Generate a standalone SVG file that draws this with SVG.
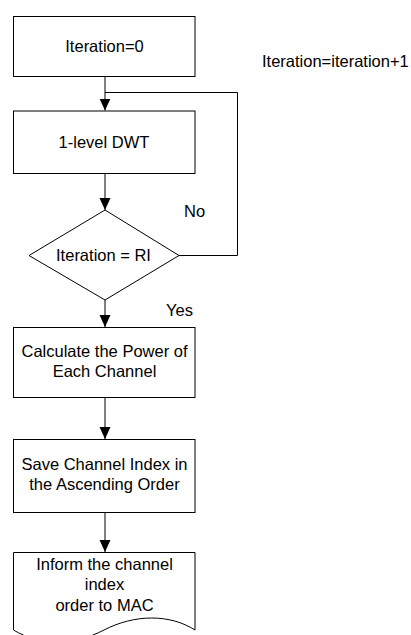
<svg xmlns="http://www.w3.org/2000/svg" width="411" height="635" viewBox="0 0 411 635">
<defs>
<style>
.shape{fill:#fff;stroke:#000;stroke-width:1}
.line{fill:none;stroke:#000;stroke-width:1}
text{font-family:"Liberation Sans",Arial,sans-serif;font-size:16.5px;fill:#000}
.c{text-anchor:middle}
</style>
<marker id="arrow" markerWidth="12" markerHeight="12" viewBox="0 0 12 12" refX="12" refY="6" orient="auto" markerUnits="userSpaceOnUse">
<path d="M0,0.5 L12,6 L0,11.5 Z" fill="#000"/>
</marker>
</defs>
<rect width="411" height="635" fill="#fff"/>
<g id="connectors">
<path class="line" d="M105,76.5 V110.5" marker-end="url(#arrow)"/>
<path class="line" d="M179,255.5 H237.5 V92.5 H105"/>
<path class="line" d="M105,173.5 V210" marker-end="url(#arrow)"/>
<path class="line" d="M105,300 V327" marker-end="url(#arrow)"/>
<path class="line" d="M105,397.5 V439" marker-end="url(#arrow)"/>
<path class="line" d="M105,512.5 V552" marker-end="url(#arrow)"/>
<text x="184" y="217">No</text>
<text x="166" y="316">Yes</text>
</g>
<g id="label-increment">
<text x="262" y="67">Iteration=iteration+1</text>
</g>
<g id="node-init">
<rect class="shape" x="13.5" y="16.5" width="181.5" height="60"/>
<text class="c" x="104.5" y="52">Iteration=0</text>
</g>
<g id="node-dwt">
<rect class="shape" x="13.5" y="111" width="181.5" height="62.5"/>
<text class="c" x="104" y="148">1-level DWT</text>
</g>
<g id="node-decision">
<polygon class="shape" points="105,210 179,255.5 105,300 29,255.5"/>
<text class="c" x="103.5" y="261">Iteration = RI</text>
</g>
<g id="node-power">
<rect class="shape" x="13.5" y="327.5" width="181.5" height="70"/>
<text class="c" x="104.5" y="357">Calculate the Power of</text>
<text class="c" x="104.5" y="377">Each Channel</text>
</g>
<g id="node-save">
<rect class="shape" x="13.5" y="439.5" width="181.5" height="73"/>
<text class="c" x="104.5" y="470">Save Channel Index in</text>
<text class="c" x="104.5" y="490">the Ascending Order</text>
</g>
<g id="node-inform">
<path class="shape" d="M13.5,552.5 H195 V630 C170,614 135,614 104,630 S40,646 13.5,630 Z"/>
<text class="c" x="104.5" y="570">Inform the channel</text>
<text class="c" x="104.5" y="590">index</text>
<text class="c" x="104.5" y="610.5">order to MAC</text>
</g>
</svg>
